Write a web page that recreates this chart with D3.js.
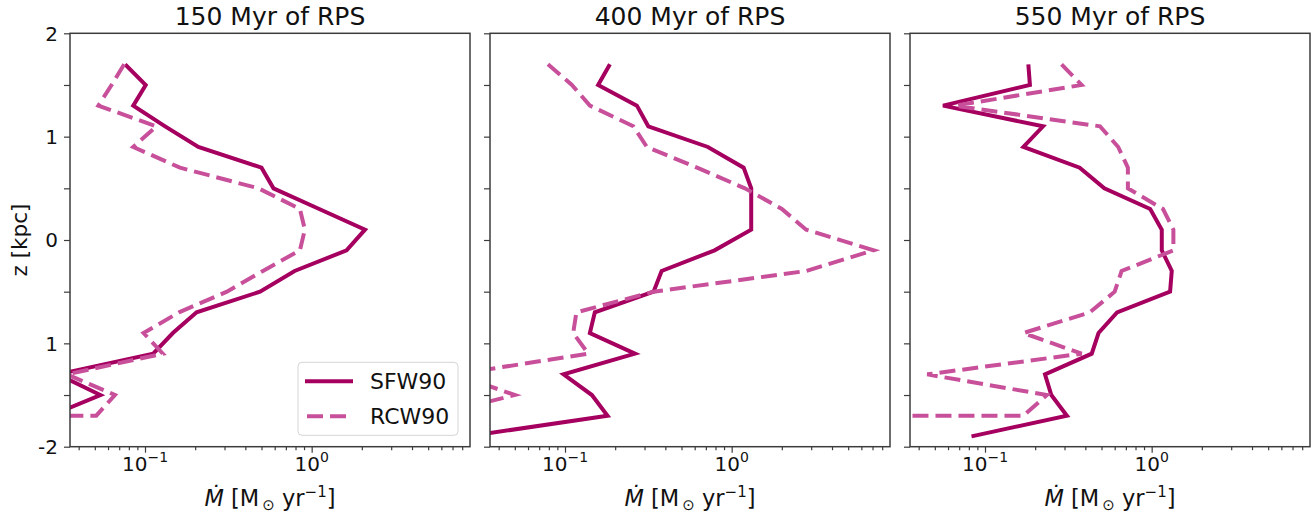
<!DOCTYPE html>
<html>
<head>
<meta charset="utf-8">
<script src="https://cdn.jsdelivr.net/npm/d3@7"></script>
<style>
  html, body { margin: 0; padding: 0; background: #fff; }
  svg { display: block; font-family: "DejaVu Sans", sans-serif; }
</style>
</head>
<body>
<svg id="chart" width="1314" height="518"></svg>
<script>
// ---- data ----
const zLevels = [1.7, 1.5, 1.3, 1.1, 0.9, 0.7, 0.5, 0.3, 0.1, -0.1, -0.3, -0.5, -0.7, -0.9, -1.1, -1.3, -1.5, -1.7, -1.9];
const panelTitles = ["150 Myr of RPS", "400 Myr of RPS", "550 Myr of RPS"];
const seriesNames = ["SFW90", "RCW90"];

const sfw150 = [0.076, 0.101, 0.085, 0.132, 0.209, 0.50, 0.59, 1.11, 2.09, 1.62, 0.79, 0.49, 0.204, 0.147, 0.112, 0.030, 0.054, 0.027, 0];
const rcw150 = [0.075, 0.063, 0.0525, 0.117, 0.085, 0.162, 0.48, 0.85, 0.91, 0.85, 0.51, 0.31, 0.16, 0.098, 0.128, 0.034, 0.066, 0.051, 0];

const sfw400 = [0.186, 0.158, 0.27, 0.316, 0.72, 1.18, 1.31, 1.31, 1.31, 0.79, 0.38, 0.34, 0.151, 0.141, 0.263, 0.098, 0.145, 0.18, 0.026];
const rcw400 = [0.079, 0.11, 0.141, 0.257, 0.31, 0.62, 1.2, 2.0, 2.8, 7.1, 2.8, 0.34, 0.117, 0.112, 0.138, 0.022, 0.05, 0.016, 0];

const sfw550 = [0.182, 0.186, 0.056, 0.223, 0.17, 0.37, 0.52, 0.98, 1.15, 1.15, 1.32, 1.29, 0.62, 0.48, 0.437, 0.229, 0.25, 0.31, 0.083];
const rcw550 = [0.288, 0.38, 0.066, 0.49, 0.63, 0.72, 0.72, 1.17, 1.35, 1.35, 0.66, 0.6, 0.426, 0.17, 0.38, 0.045, 0.235, 0.17, 0];

const panelSeries = [[sfw150, rcw150], [sfw400, rcw400], [sfw550, rcw550]];

const xDomain = [Math.pow(10, -1.45), Math.pow(10, 0.95)];
const yDomain = [-2, 2];
const yMajorTicks = [2, 1, 0, -1, -2];
const yTickLabels = ["2", "1", "0", "1", "-2"];
const yMinorTicks = [1.5, 0.5, -0.5, -1.5];
const xMajorTicks = [0.1, 1];
const xMajorExp = ["\u22121", "0"];
const xMinorTicks = [0.04, 0.05, 0.06, 0.07, 0.08, 0.09, 0.2, 0.3, 0.4, 0.5, 0.6, 0.7, 0.8, 0.9, 2, 3, 4, 5, 6, 7, 8];

// ---- layout / style ----
const panelLefts = [70, 490, 910];
const topY = 33.3, pw = 400, ph = 413.4;
const colors = ["#a5005f", "#c8509b"];
const dashes = [null, "16,7"];
const axisColor = "#3c3c3c";

const svg = d3.select("#chart");
const x = d3.scaleLog().domain(xDomain).range([0, pw]);
const y = d3.scaleLinear().domain(yDomain).range([ph, 0]);
const clipLow = 1e-300; // non-positive values clipped like a log axis

const line = d3.line()
  .x(d => x(Math.max(d.v, clipLow)))
  .y(d => y(d.z));

const defs = svg.append("defs");

panelLefts.forEach((px, i) => {
  const g = svg.append("g").attr("transform", `translate(${px},${topY})`);

  defs.append("clipPath").attr("id", "clip" + i)
    .append("rect").attr("x", 0).attr("y", 0).attr("width", pw).attr("height", ph);

  // lines
  const lg = g.append("g").attr("clip-path", `url(#clip${i})`);
  panelSeries[i].forEach((vals, s) => {
    const pts = zLevels.map((z, k) => ({ z: z, v: vals[k] }));
    lg.append("path")
      .attr("d", line(pts))
      .attr("fill", "none")
      .attr("stroke", colors[s])
      .attr("stroke-width", 4)
      .attr("stroke-linejoin", "miter")
      .attr("stroke-linecap", "butt")
      .attr("stroke-dasharray", dashes[s]);
  });

  // axes
  const xMajor = d3.axisBottom(x).tickValues(xMajorTicks).tickFormat("").tickSize(6).tickSizeOuter(0);
  const xMinor = d3.axisBottom(x).tickValues(xMinorTicks).tickFormat("").tickSize(3.5).tickSizeOuter(0);
  const yMajor = d3.axisLeft(y).tickValues(yMajorTicks).tickFormat("").tickSize(6).tickSizeOuter(0);
  const yMinor = d3.axisLeft(y).tickValues(yMinorTicks).tickFormat("").tickSize(6).tickSizeOuter(0);

  [xMajor, xMinor].forEach(ax => {
    g.append("g").attr("transform", `translate(0,${ph})`).call(ax)
      .call(s => s.select(".domain").remove())
      .selectAll("line").attr("stroke", axisColor).attr("stroke-width", 1.2);
  });
  [yMajor, yMinor].forEach(ax => {
    g.append("g").call(ax)
      .call(s => s.select(".domain").remove())
      .selectAll("line").attr("stroke", axisColor).attr("stroke-width", 1.2);
  });

  // frame
  g.append("rect").attr("x", 0).attr("y", 0).attr("width", pw).attr("height", ph)
    .attr("fill", "none").attr("stroke", axisColor).attr("stroke-width", 1.5);

  // x tick labels
  xMajorTicks.forEach((t, k) => {
    const txt = g.append("text")
      .attr("x", x(t)).attr("y", ph + 24)
      .attr("text-anchor", "middle")
      .attr("font-size", 20).attr("fill", "#111");
    txt.append("tspan").text("10");
    txt.append("tspan").attr("dy", -8.5).attr("font-size", 14).text(xMajorExp[k]);
  });

  // y tick labels (first panel only)
  if (i === 0) {
    yMajorTicks.forEach((t, k) => {
      g.append("text")
        .attr("x", -12).attr("y", y(t)).attr("dy", "0.36em")
        .attr("text-anchor", "end")
        .attr("font-size", 20).attr("fill", "#111")
        .text(yTickLabels[k]);
    });
    g.append("text")
      .attr("transform", `translate(${-43},${ph / 2}) rotate(-90)`)
      .attr("text-anchor", "middle")
      .attr("font-size", 21.5).attr("fill", "#111")
      .text("z [kpc]");
  }

  // title
  g.append("text")
    .attr("x", pw / 2).attr("y", -8)
    .attr("text-anchor", "middle")
    .attr("font-size", 25).attr("fill", "#111")
    .text(panelTitles[i]);

  // x label
  const xl = g.append("text")
    .attr("x", pw / 2).attr("y", ph + 59)
    .attr("text-anchor", "middle")
    .attr("font-size", 22.5).attr("fill", "#111");
  xl.append("tspan").attr("font-style", "italic").text("\u1E40");
  xl.append("tspan").text(" [M");
  xl.append("tspan").attr("font-size", 15).attr("dx", 3).attr("dy", 4).text("\u2299");
  xl.append("tspan").attr("dy", -4).text(" yr");
  xl.append("tspan").attr("font-size", 15).attr("dy", -9).text("\u22121");
  xl.append("tspan").attr("dy", 9).text("]");

  // legend
  if (i === 0) {
    const lx = 228, ly = 329;
    const leg = g.append("g").attr("transform", `translate(${lx},${ly})`);
    leg.append("rect").attr("width", 160).attr("height", 73).attr("rx", 4)
      .attr("fill", "#fff").attr("fill-opacity", 0.85)
      .attr("stroke", "#d5d5d5").attr("stroke-width", 1);
    seriesNames.forEach((nm, s) => {
      const yy = 19 + s * 35;
      leg.append("line").attr("x1", 7).attr("x2", 55).attr("y1", yy).attr("y2", yy)
        .attr("stroke", colors[s]).attr("stroke-width", 4)
        .attr("stroke-dasharray", dashes[s] ? "16,7" : null)
        .attr("stroke-dashoffset", dashes[s] ? -2 : null);
      leg.append("text").attr("x", 72).attr("y", yy).attr("dy", "0.36em")
        .attr("font-size", 22).attr("fill", "#111").text(nm);
    });
  }
});
</script>
</body>
</html>
